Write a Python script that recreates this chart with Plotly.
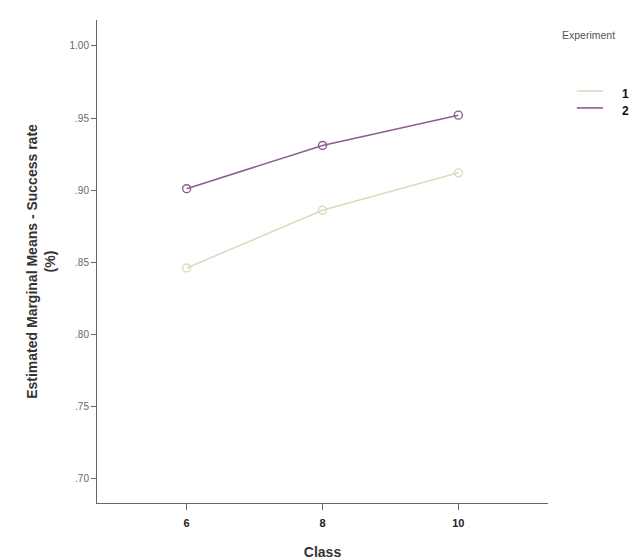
import plotly.graph_objects as go

classes = [6, 8, 10]
exp1 = [0.846, 0.886, 0.912]
exp2 = [0.901, 0.931, 0.952]
series = [("1", exp1, "#d9ddc0"), ("2", exp2, "#8b5e8f")]

y_ticks = [0.70, 0.75, 0.80, 0.85, 0.90, 0.95, 1.00]
y_labels = [".70", ".75", ".80", ".85", ".90", ".95", "1.00"]

fig = go.Figure()
shapes = []
annotations = [dict(text="Experiment", xref="paper", yref="paper",
                    x=1.027, y=0.969, xanchor="left", yanchor="middle",
                    showarrow=False, font=dict(size=10.5, color="#555"))]
for i, (name, vals, col) in enumerate(series):
    fig.add_trace(go.Scatter(
        x=classes, y=vals, mode="lines+markers", name=name, showlegend=False,
        line=dict(color=col, width=1.6),
        marker=dict(symbol="circle-open", size=8, color=col, line=dict(width=1.4)),
    ))
    # hand-made legend key (lines only, tight spacing like SPSS)
    ly = 0.853 - i * 0.035
    shapes.append(dict(type="line", xref="paper", yref="paper",
                       x0=1.064, x1=1.122, y0=ly, y1=ly,
                       line=dict(color=col, width=1.6)))
    annotations.append(dict(text="<b>%s</b>" % name, xref="paper", yref="paper",
                            x=1.171, y=ly - 0.006, xanchor="center", yanchor="middle",
                            showarrow=False, font=dict(size=12, color="#111")))

fig.update_layout(
    width=637, height=560,
    paper_bgcolor="white", plot_bgcolor="white",
    margin=dict(l=97, r=89, t=20, b=57),
    font=dict(family="Liberation Sans, Arial, sans-serif", color="#222"),
    showlegend=False,
    shapes=shapes,
    annotations=annotations,
)
fig.update_xaxes(
    range=[4.68, 11.32], tickvals=classes, ticktext=["<b>%d</b>" % c for c in classes],
    showgrid=False, zeroline=False, showline=True, linecolor="#666", linewidth=1,
    ticks="outside", ticklen=6, tickcolor="#666", automargin=False,
    ticklabelstandoff=4,
    tickfont=dict(size=11, color="#222"),
    title=dict(text="<b>Class</b>", font=dict(size=14, color="#333"), standoff=19),
)
fig.update_yaxes(
    range=[0.683, 1.018], tickvals=y_ticks, ticktext=y_labels,
    showgrid=False, zeroline=False, showline=True, linecolor="#666", linewidth=1,
    ticks="outside", ticklen=5, tickcolor="#666", automargin=False,
    tickfont=dict(size=10, color="#666"),
    title=dict(text="<b>Estimated Marginal Means - Success rate<br>(%)</b>",
               font=dict(size=14, color="#333"), standoff=10),
)

# drop the browser's default 8px body margin so the figure fills the window
fig.write_html("out.html", config={"displayModeBar": False},
               post_script="document.body.style.margin='0';")
